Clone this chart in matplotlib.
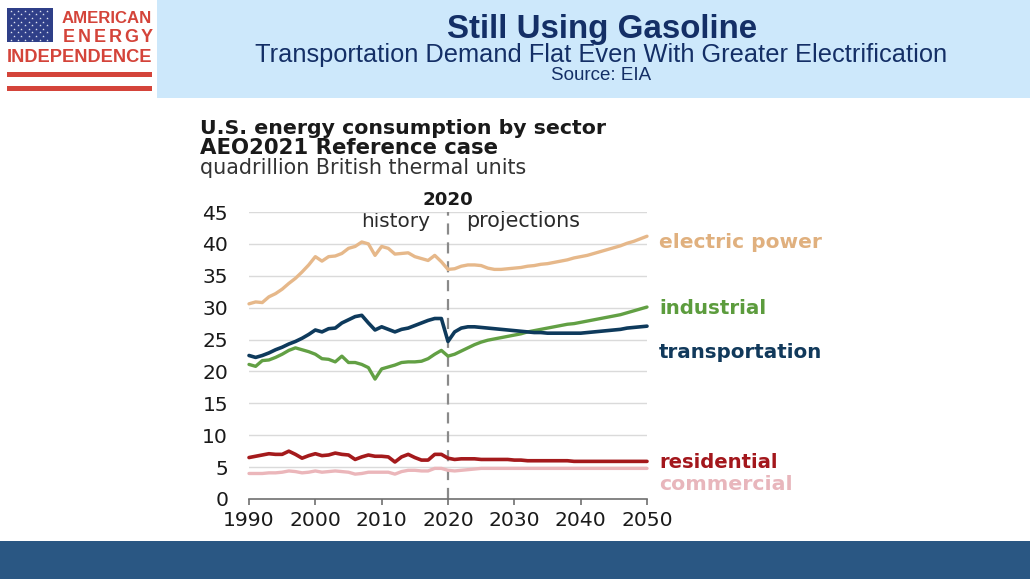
import matplotlib
matplotlib.use("Agg")
import matplotlib.pyplot as plt
from matplotlib.patches import Rectangle

# ---------------- data ----------------
years = list(range(1990, 2051))

electric_power = [30.6, 30.9, 30.8, 31.7, 32.2, 32.9, 33.8, 34.6, 35.6, 36.7,
                  38.0, 37.3, 38.0, 38.1, 38.5, 39.3, 39.6, 40.3, 40.0, 38.2,
                  39.6, 39.3, 38.4, 38.5, 38.6, 38.0, 37.7, 37.4, 38.2, 37.2,
                  36.0,
                  36.1, 36.5, 36.7, 36.7, 36.6, 36.2, 36.0, 36.0, 36.1, 36.2,
                  36.3, 36.5, 36.6, 36.8, 36.9, 37.1, 37.3, 37.5, 37.8, 38.0,
                  38.2, 38.5, 38.8, 39.1, 39.4, 39.7, 40.1, 40.4, 40.8, 41.2]

industrial = [21.1, 20.8, 21.7, 21.8, 22.2, 22.7, 23.3, 23.7, 23.4, 23.1,
              22.7, 22.0, 21.9, 21.5, 22.4, 21.4, 21.4, 21.1, 20.6, 18.8,
              20.4, 20.7, 21.0, 21.4, 21.5, 21.5, 21.6, 22.0, 22.7, 23.3,
              22.4,
              22.7, 23.2, 23.7, 24.2, 24.6, 24.9, 25.1, 25.3, 25.5, 25.7,
              25.9, 26.2, 26.4, 26.6, 26.8, 27.0, 27.2, 27.4, 27.5, 27.7,
              27.9, 28.1, 28.3, 28.5, 28.7, 28.9, 29.2, 29.5, 29.8, 30.1]

transportation = [22.5, 22.2, 22.5, 22.9, 23.4, 23.8, 24.3, 24.7, 25.2, 25.8,
                  26.5, 26.2, 26.7, 26.8, 27.6, 28.1, 28.6, 28.8, 27.6, 26.5,
                  27.0, 26.6, 26.2, 26.6, 26.8, 27.2, 27.6, 28.0, 28.3, 28.3,
                  24.7,
                  26.2, 26.8, 27.0, 27.0, 26.9, 26.8, 26.7, 26.6, 26.5, 26.4,
                  26.3, 26.2, 26.1, 26.1, 26.0, 26.0, 26.0, 26.0, 26.0, 26.0,
                  26.1, 26.2, 26.3, 26.4, 26.5, 26.6, 26.8, 26.9, 27.0, 27.1]

residential = [6.5, 6.7, 6.9, 7.1, 7.0, 7.0, 7.5, 7.0, 6.4, 6.8,
               7.1, 6.8, 6.9, 7.2, 7.0, 6.9, 6.2, 6.6, 6.9, 6.7,
               6.7, 6.6, 5.8, 6.6, 7.0, 6.5, 6.1, 6.1, 7.0, 7.0,
               6.4,
               6.2, 6.3, 6.3, 6.3, 6.2, 6.2, 6.2, 6.2, 6.2, 6.1,
               6.1, 6.0, 6.0, 6.0, 6.0, 6.0, 6.0, 6.0, 5.9, 5.9,
               5.9, 5.9, 5.9, 5.9, 5.9, 5.9, 5.9, 5.9, 5.9, 5.9]

commercial = [4.0, 4.0, 4.0, 4.1, 4.1, 4.2, 4.4, 4.3, 4.1, 4.2,
              4.4, 4.2, 4.3, 4.4, 4.3, 4.2, 3.9, 4.0, 4.2, 4.2,
              4.2, 4.2, 3.9, 4.3, 4.5, 4.5, 4.4, 4.4, 4.8, 4.8,
              4.5,
              4.4, 4.5, 4.6, 4.7, 4.8, 4.8, 4.8, 4.8, 4.8, 4.8,
              4.8, 4.8, 4.8, 4.8, 4.8, 4.8, 4.8, 4.8, 4.8, 4.8,
              4.8, 4.8, 4.8, 4.8, 4.8, 4.8, 4.8, 4.8, 4.8, 4.8]

series_names = ["electric power", "industrial", "transportation", "residential", "commercial"]
y_ticks = [0, 5, 10, 15, 20, 25, 30, 35, 40, 45]
x_ticks = [1990, 2000, 2010, 2020, 2030, 2040, 2050]

# ---------------- figure ----------------
W, H = 1030, 579
fig = plt.figure(figsize=(W / 100, H / 100), dpi=100)
fig.patch.set_facecolor("white")
renderer = fig.canvas.get_renderer()

CHART_FONT = "DejaVu Sans"
HEAD_FONT = "Liberation Sans"

# overlay axes in pixel coordinates for decoration
ov = fig.add_axes([0, 0, 1, 1], zorder=0)
ov.set_xlim(0, W)
ov.set_ylim(H, 0)
ov.axis("off")


def fit_text(x, yb, s, width, ha="left", **kw):
    t = ov.text(x, yb, s, ha=ha, va="baseline", fontsize=20, **kw)
    bb = t.get_window_extent(renderer)
    t.set_fontsize(20 * width / bb.width)
    return t


# header band
ov.add_patch(Rectangle((157, 0), W - 157, 98, color="#cde8fb", lw=0))
# bottom band
ov.add_patch(Rectangle((0, 541), W, H - 541, color="#2a5783", lw=0))

# logo: flag
ov.add_patch(Rectangle((7, 8), 46, 34, color="#2f3f88", lw=0))
sx, sy = [], []
for r in range(9):
    ncol = 6 if r % 2 == 0 else 5
    off = 0 if r % 2 == 0 else 3.6
    for c in range(ncol):
        sx.append(10.5 + off + c * 7.3)
        sy.append(10.8 + r * 3.6)
ov.scatter(sx, sy, s=3.5, color="#e8ecf6", lw=0, marker="*")
red = "#d4443a"
ov.add_patch(Rectangle((7, 72), 145, 5, color=red, lw=0))
ov.add_patch(Rectangle((7, 86), 145, 5, color=red, lw=0))
fit_text(62, 23, "AMERICAN", 90, color=red, family=HEAD_FONT, weight="bold")
# spaced letters of ENERGY
for i, ch in enumerate("ENERGY"):
    ov.text(68.5 + i * 15.6, 42, ch, ha="center", va="baseline", color=red,
            family=HEAD_FONT, weight="bold", fontsize=13)
fit_text(7, 62.5, "INDEPENDENCE", 145, color=red, family=HEAD_FONT, weight="bold")

# header texts
navy = "#142f66"
fit_text(602, 38, "Still Using Gasoline", 310, ha="center", color=navy,
         family=HEAD_FONT, weight="bold")
fit_text(601.5, 62, "Transportation Demand Flat Even With Greater Electrification", 689,
         ha="center", color=navy, family=HEAD_FONT)
fit_text(601, 79.5, "Source: EIA", 100, ha="center", color=navy, family=HEAD_FONT)

# chart titles
fit_text(200, 133.5, "U.S. energy consumption by sector", 405, color="#1a1a1a",
         family=CHART_FONT, weight="bold")
fit_text(200, 154.5, "AEO2021 Reference case", 298, color="#1a1a1a",
         family=CHART_FONT, weight="bold")
fit_text(200, 174, "quadrillion British thermal units", 327, color="#333333",
         family=CHART_FONT)

# ---------------- chart ----------------
ax = fig.add_axes([249 / W, 1 - 499 / H, (647 - 249) / W, (499 - 212) / H], zorder=2)
ax.set_facecolor("none")
ax.set_xlim(1990, 2050)
ax.set_ylim(0, 45)
for sp in ["top", "right", "left"]:
    ax.spines[sp].set_visible(False)
ax.spines["bottom"].set_color("#707070")
ax.spines["bottom"].set_linewidth(1.2)
ax.set_yticks(y_ticks)
ax.set_xticks(x_ticks)
ax.set_yticklabels([str(v) for v in y_ticks])
ax.set_xticklabels([str(v) for v in x_ticks])
ax.tick_params(axis="y", length=0, pad=15, labelsize=14.6, labelcolor="#1a1a1a")
ax.tick_params(axis="x", length=4, width=1.2, color="#707070", pad=5,
               labelsize=14.6, labelcolor="#1a1a1a")
for lab in ax.get_xticklabels() + ax.get_yticklabels():
    lab.set_family(CHART_FONT)
for v in y_ticks[1:]:
    ax.axhline(v, color="#dadada", lw=1.0, zorder=1)

ax.axvline(2020, color="#8a8a8a", lw=1.6, ls=(0, (5, 3.5)), zorder=2)

colors = {"electric power": "#e6b88a", "industrial": "#62a044",
          "transportation": "#0e3a5c", "residential": "#a41a1c",
          "commercial": "#ebb6ba"}
label_colors = {"electric power": "#e0b07e", "industrial": "#5c9c3d",
                "transportation": "#11395b", "residential": "#a3171c",
                "commercial": "#e8b6bc"}
data = {"electric power": electric_power, "industrial": industrial,
        "transportation": transportation, "residential": residential,
        "commercial": commercial}
widths = {"electric power": 2.4, "industrial": 2.4, "transportation": 2.6,
          "residential": 2.6, "commercial": 2.4}
for name in ["commercial", "residential", "electric power", "industrial", "transportation"]:
    ax.plot(years, data[name], color=colors[name], lw=widths[name], zorder=3,
            solid_joinstyle="round", solid_capstyle="round", clip_on=False)

# in-chart annotations
fit_text(448, 205, "2020", 51, ha="center", color="#1a1a1a", family=CHART_FONT,
         weight="bold")
fit_text(430, 227, "history", 69, ha="right", color="#2a2a2a", family=CHART_FONT)
fit_text(466, 227, "projections", 114, color="#2a2a2a", family=CHART_FONT)

# series labels
label_pos = {"electric power": (248.5, 162), "industrial": (313.5, 108),
             "transportation": (358.5, 163), "residential": (468.5, 119),
             "commercial": (490.5, 133)}
for name in series_names:
    yb, w = label_pos[name]
    fit_text(659, yb, name, w, color=label_colors[name], family=CHART_FONT,
             weight="bold")

fig.savefig("out.png", dpi=100, facecolor="white")
